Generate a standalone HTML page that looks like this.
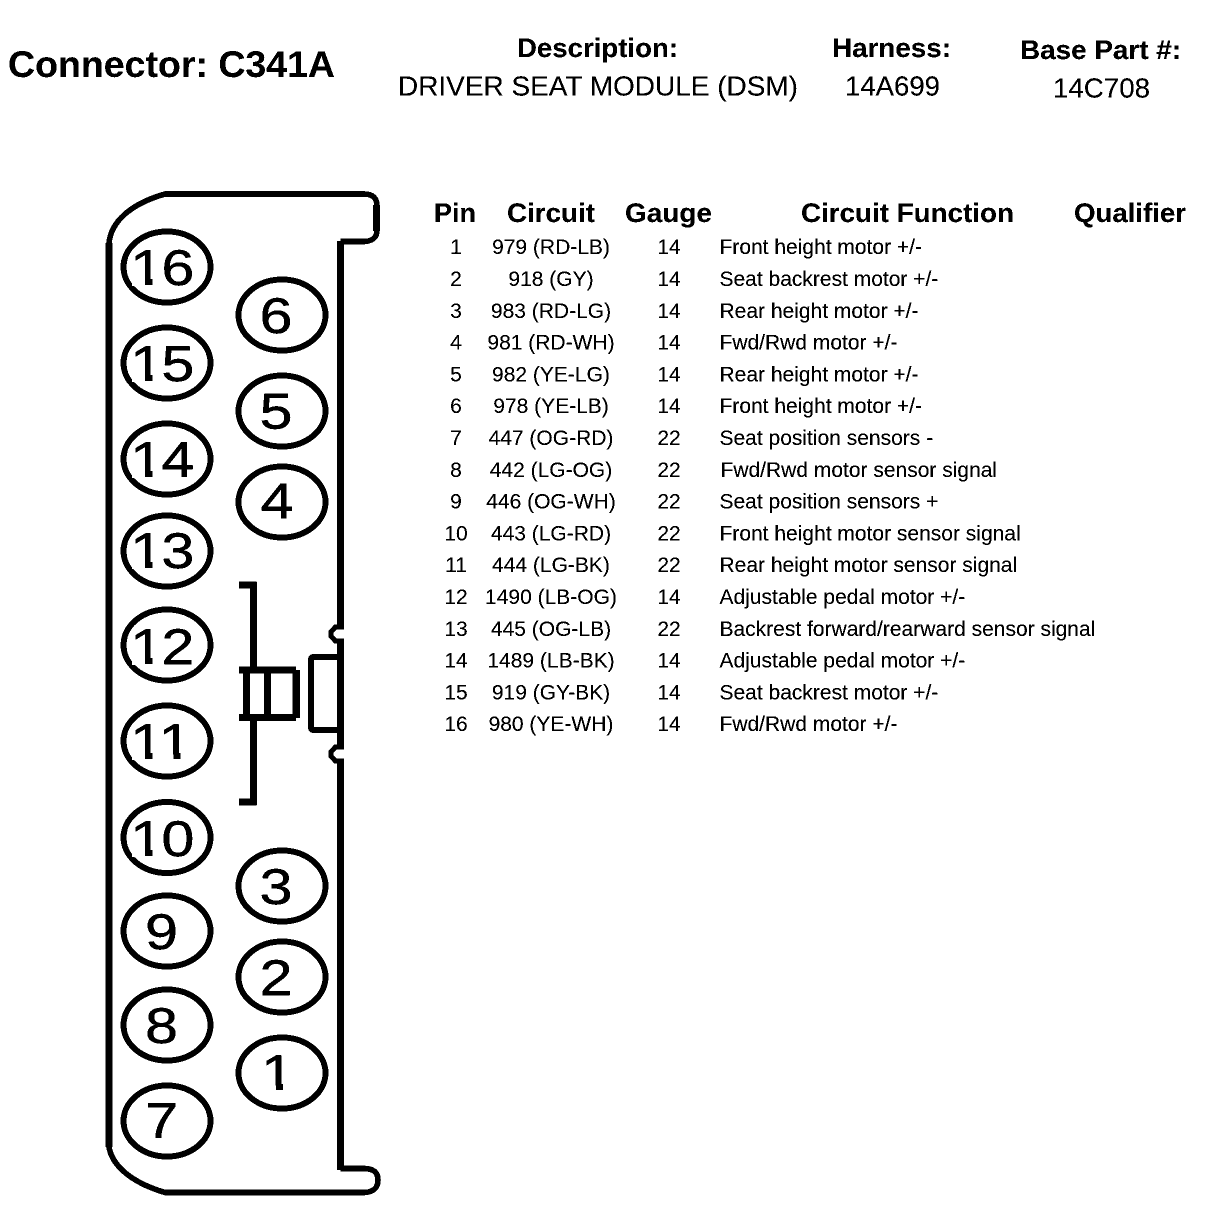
<!DOCTYPE html>
<html>
<head>
<meta charset="utf-8">
<title>Connector C341A</title>
<style>
html,body{margin:0;padding:0;background:#fff;width:1216px;height:1212px;overflow:hidden}
svg{display:block}
text{font-family:"Liberation Sans",Arial,sans-serif;fill:#000}
.b{font-weight:bold}
.h{font-weight:bold;font-size:27px}
.t{font-size:28px}
.th{font-weight:bold;font-size:26.5px}
.r{font-size:21px}
.m{text-anchor:middle}
.d{font-size:59px;stroke:#000;stroke-width:.5}
.c{text-anchor:middle}
ellipse{fill:none;stroke:#000;stroke-width:5.8}
.w{fill:#fff}
</style>
</head>
<body>
<svg xmlns="http://www.w3.org/2000/svg" width="1216" height="1212" viewBox="0 0 1216 1212">
<defs>
<filter id="bw" x="0" y="0" width="100%" height="100%" color-interpolation-filters="sRGB">
<feComponentTransfer>
<feFuncR type="discrete" tableValues="0 0 1"/>
<feFuncG type="discrete" tableValues="0 0 1"/>
<feFuncB type="discrete" tableValues="0 0 1"/>
</feComponentTransfer>
</filter>
</defs>
<g filter="url(#bw)">
<rect x="0" y="0" width="1216" height="1212" fill="#fff"/>

<!-- Heading -->
<text class="b" x="8" y="77" font-size="37" textLength="327" lengthAdjust="spacingAndGlyphs">Connector: C341A</text>
<text class="h" x="517" y="57" textLength="161" lengthAdjust="spacingAndGlyphs">Description:</text>
<text class="t" x="398" y="95.4" textLength="400" lengthAdjust="spacingAndGlyphs">DRIVER SEAT MODULE (DSM)</text>
<text class="h" x="832" y="57" textLength="119" lengthAdjust="spacingAndGlyphs">Harness:</text>
<text class="t" x="845" y="95.4" textLength="95" lengthAdjust="spacingAndGlyphs">14A699</text>
<text class="h" x="1020" y="59" textLength="161" lengthAdjust="spacingAndGlyphs">Base Part #:</text>
<text class="t" x="1053" y="97.4" textLength="97" lengthAdjust="spacingAndGlyphs">14C708</text>

<!-- Table header -->
<text class="th" x="434" y="222" textLength="42" lengthAdjust="spacingAndGlyphs">Pin</text>
<text class="th" x="507" y="222" textLength="88" lengthAdjust="spacingAndGlyphs">Circuit</text>
<text class="th" x="625" y="222" textLength="87" lengthAdjust="spacingAndGlyphs">Gauge</text>
<text class="th" x="801" y="222" textLength="213" lengthAdjust="spacingAndGlyphs">Circuit Function</text>
<text class="th" x="1074" y="222" textLength="112" lengthAdjust="spacingAndGlyphs">Qualifier</text>

<!-- Table rows -->
<g transform="translate(0,-.8)">
<text class="r m" x="456" y="255">1</text><text class="r m" x="551" y="255">979 (RD-LB)</text><text class="r m" x="669" y="255">14</text><text class="r" x="719.5" y="255">Front height motor +/-</text>
<text class="r m" x="456" y="286.8">2</text><text class="r m" x="551" y="286.8">918 (GY)</text><text class="r m" x="669" y="286.8">14</text><text class="r" x="719.5" y="286.8">Seat backrest motor +/-</text>
<text class="r m" x="456" y="318.6">3</text><text class="r m" x="551" y="318.6">983 (RD-LG)</text><text class="r m" x="669" y="318.6">14</text><text class="r" x="719.5" y="318.6">Rear height motor +/-</text>
<text class="r m" x="456" y="350.4">4</text><text class="r m" x="551" y="350.4">981 (RD-WH)</text><text class="r m" x="669" y="350.4">14</text><text class="r" x="719.5" y="350.4">Fwd/Rwd motor +/-</text>
<text class="r m" x="456" y="382.2">5</text><text class="r m" x="551" y="382.2">982 (YE-LG)</text><text class="r m" x="669" y="382.2">14</text><text class="r" x="719.5" y="382.2">Rear height motor +/-</text>
<text class="r m" x="456" y="414">6</text><text class="r m" x="551" y="414">978 (YE-LB)</text><text class="r m" x="669" y="414">14</text><text class="r" x="719.5" y="414">Front height motor +/-</text>
<text class="r m" x="456" y="445.8">7</text><text class="r m" x="551" y="445.8">447 (OG-RD)</text><text class="r m" x="669" y="445.8">22</text><text class="r" x="719.5" y="445.8">Seat position sensors -</text>
<text class="r m" x="456" y="477.6">8</text><text class="r m" x="551" y="477.6">442 (LG-OG)</text><text class="r m" x="669" y="477.6">22</text><text class="r" x="720.5" y="477.6">Fwd/Rwd motor sensor signal</text>
<text class="r m" x="456" y="509.4">9</text><text class="r m" x="551" y="509.4">446 (OG-WH)</text><text class="r m" x="669" y="509.4">22</text><text class="r" x="719.5" y="509.4">Seat position sensors +</text>
<text class="r m" x="456" y="541.2">10</text><text class="r m" x="551" y="541.2">443 (LG-RD)</text><text class="r m" x="669" y="541.2">22</text><text class="r" x="719.5" y="541.2">Front height motor sensor signal</text>
<text class="r m" x="456" y="573">11</text><text class="r m" x="551" y="573">444 (LG-BK)</text><text class="r m" x="669" y="573">22</text><text class="r" x="719.5" y="573">Rear height motor sensor signal</text>
<text class="r m" x="456" y="604.8">12</text><text class="r m" x="551" y="604.8">1490 (LB-OG)</text><text class="r m" x="669" y="604.8">14</text><text class="r" x="719.5" y="604.8">Adjustable pedal motor +/-</text>
<text class="r m" x="456" y="636.6">13</text><text class="r m" x="551" y="636.6">445 (OG-LB)</text><text class="r m" x="669" y="636.6">22</text><text class="r" x="719.5" y="636.6">Backrest forward/rearward sensor signal</text>
<text class="r m" x="456" y="668.4">14</text><text class="r m" x="551" y="668.4">1489 (LB-BK)</text><text class="r m" x="669" y="668.4">14</text><text class="r" x="719.5" y="668.4">Adjustable pedal motor +/-</text>
<text class="r m" x="456" y="700.2">15</text><text class="r m" x="551" y="700.2">919 (GY-BK)</text><text class="r m" x="669" y="700.2">14</text><text class="r" x="719.5" y="700.2">Seat backrest motor +/-</text>
<text class="r m" x="456" y="732">16</text><text class="r m" x="551" y="732">980 (YE-WH)</text><text class="r m" x="669" y="732">14</text><text class="r" x="719.5" y="732">Fwd/Rwd motor +/-</text>
</g>

<!-- Connector outline -->
<path d="M340.5,241.5 H364 Q377,241 377,230 V206 Q377,194 364,194 H165 C130,204 111,222 109,243 V1147 C112,1165 130,1182 165,1192.5 H364 Q378,1192 378,1180 Q378,1168.5 364,1168.5 H340.5" fill="none" stroke="#000" stroke-width="5.4"/>
<rect x="105.5" y="243" width="7" height="904"/>
<rect x="373" y="205" width="7" height="26"/>
<path d="M340.5,241 V627 M340.5,640 V746 M340.5,760 V1170" fill="none" stroke="#000" stroke-width="7"/>
<path d="M344,627 H335.5 L331,632 V636 L335.5,641 H344" fill="none" stroke="#000" stroke-width="5"/>
<path d="M344,747 H335.5 L331,752 V756 L335.5,761 H344" fill="none" stroke="#000" stroke-width="5"/>
<path d="M340,657 H314 Q311,657 311,660 V727 Q311,730 314,730 H340" fill="none" stroke="#000" stroke-width="6"/>

<!-- Latch bracket -->
<path d="M239,585 H253.5 V670 M253.5,718 V802 H239" fill="none" stroke="#000" stroke-width="6.5"/>
<path d="M239,670 H296 M239,717.5 H296" fill="none" stroke="#000" stroke-width="6.5"/>
<rect x="243" y="670" width="7" height="48"/>
<rect x="264" y="670" width="7" height="48"/>
<rect x="292.5" y="670" width="7.5" height="48"/>

<!-- Pin cavities -->
<ellipse cx="167" cy="267" rx="43.5" ry="35.5"/>
<ellipse cx="167" cy="363" rx="43.5" ry="35.5"/>
<ellipse cx="167" cy="459" rx="43.5" ry="35.5"/>
<ellipse cx="167" cy="551" rx="43.5" ry="35.5"/>
<ellipse cx="167" cy="645" rx="43.5" ry="35.5"/>
<ellipse cx="167" cy="741" rx="43.5" ry="35.5"/>
<ellipse cx="167" cy="837.5" rx="43.5" ry="35.5"/>
<ellipse cx="167" cy="931" rx="43.5" ry="35.5"/>
<ellipse cx="167" cy="1025" rx="43.5" ry="35.5"/>
<ellipse cx="167" cy="1121" rx="43.5" ry="35.5"/>
<ellipse cx="282" cy="315" rx="43.5" ry="35.5"/>
<ellipse cx="282" cy="411" rx="43.5" ry="35.5"/>
<ellipse cx="282" cy="502" rx="43.5" ry="35.5"/>
<ellipse cx="282" cy="886" rx="43.5" ry="35.5"/>
<ellipse cx="282" cy="977" rx="43.5" ry="35.5"/>
<ellipse cx="282" cy="1073" rx="43.5" ry="35.5"/>

<text class="d" x="130.2 161.5" y="0" transform="translate(0,285) scale(1,.85)">16</text>
<text class="d" x="130.2 161.5" y="0" transform="translate(0,381) scale(1,.85)">15</text>
<text class="d" x="130.2 161.5" y="0" transform="translate(0,477) scale(1,.85)">14</text>
<text class="d" x="130.2 161.5" y="0" transform="translate(0,568) scale(1,.85)">13</text>
<text class="d" x="130.2 161.5" y="0" transform="translate(0,664) scale(1,.85)">12</text>
<text class="d" x="130.2 158.5" y="0" transform="translate(0,759) scale(1,.85)">11</text>
<text class="d" x="130.2 161.5" y="0" transform="translate(0,856) scale(1,.85)">10</text>
<text class="d c" x="161.5" y="0" transform="translate(0,949) scale(1,.85)">9</text>
<text class="d c" x="161.5" y="0" transform="translate(0,1043) scale(1,.85)">8</text>
<text class="d c" x="161.5" y="0" transform="translate(0,1138) scale(1,.85)">7</text>
<text class="d c" x="276" y="0" transform="translate(0,333) scale(1,.85)">6</text>
<text class="d c" x="276" y="0" transform="translate(0,428.5) scale(1,.85)">5</text>
<text class="d c" x="277" y="0" transform="translate(0,518.5) scale(1,.85)">4</text>
<text class="d c" x="276" y="0" transform="translate(0,904) scale(1,.85)">3</text>
<text class="d c" x="276" y="0" transform="translate(0,995) scale(1,.85)">2</text>
<text class="d" x="261" y="0" transform="translate(0,1090) scale(1,.85)">1</text>

<!-- Remove the base serif from the numeral 1, then restore its stem, to match the reference sans figure -->
<g class="w">
<rect x="132" y="280.2" width="30.5" height="6"/>
<rect x="132" y="376.2" width="30.5" height="6"/>
<rect x="132" y="472.2" width="30.5" height="6"/>
<rect x="132" y="563.2" width="30.5" height="6"/>
<rect x="132" y="659.2" width="30.5" height="6"/>
<rect x="132" y="754.2" width="59" height="6"/>
<rect x="132" y="851.2" width="30.5" height="6"/>
<rect x="263" y="1085.2" width="30.5" height="6"/>
</g>
<rect x="145.2" y="279" width="7" height="6"/>
<rect x="145.2" y="375" width="7" height="6"/>
<rect x="145.2" y="471" width="7" height="6"/>
<rect x="145.2" y="562" width="7" height="6"/>
<rect x="145.2" y="658" width="7" height="6"/>
<rect x="145.2" y="753" width="7" height="6"/>
<rect x="173.5" y="753" width="7" height="6"/>
<rect x="145.2" y="850" width="7" height="6"/>
<rect x="276" y="1084" width="7" height="6"/>
</g>
</svg>
</body>
</html>
